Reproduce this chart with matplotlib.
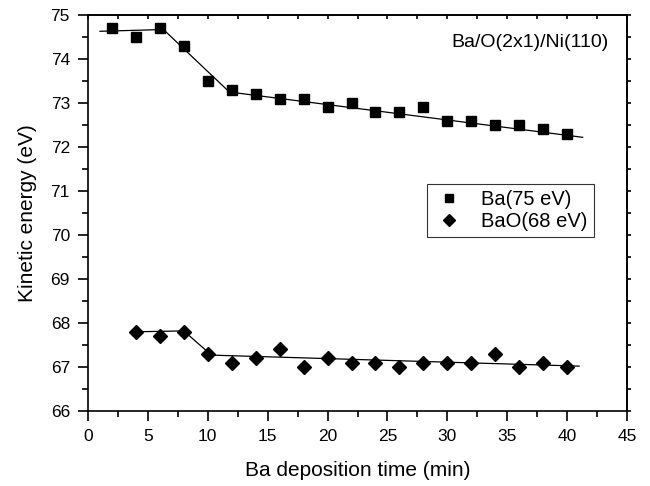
import matplotlib
matplotlib.use("Agg")
import matplotlib.pyplot as plt
from matplotlib.ticker import MultipleLocator

plt.rcParams['font.family'] = ['Liberation Sans', 'DejaVu Sans']

# Data
ba_time = [2, 4, 6, 8, 10, 12, 14, 16, 18, 20, 22, 24, 26, 28, 30, 32, 34, 36, 38, 40]
ba_energy = [74.7, 74.5, 74.7, 74.3, 73.5, 73.3, 73.2, 73.1, 73.1, 72.9,
             73.0, 72.8, 72.8, 72.9, 72.6, 72.6, 72.5, 72.5, 72.4, 72.3]
bao_time = [4, 6, 8, 10, 12, 14, 16, 18, 20, 22, 24, 26, 28, 30, 32, 34, 36, 38, 40]
bao_energy = [67.8, 67.7, 67.8, 67.3, 67.1, 67.2, 67.4, 67.0, 67.2, 67.1,
              67.1, 67.0, 67.1, 67.1, 67.1, 67.3, 67.0, 67.1, 67.0]

# Fitted line segments (breakpoints)
ba_fit_x = [1.0, 6.3, 11.8, 41.3]
ba_fit_y = [74.63, 74.67, 73.25, 72.22]
bao_fit_x = [3.9, 8.0, 10.3, 41.0]
bao_fit_y = [67.80, 67.82, 67.27, 67.02]

fig = plt.figure(figsize=(6.5, 4.86), dpi=100)
ax = fig.add_axes([88/650, 1 - 411/486, (627-88)/650, (411-15)/486])

ax.plot(ba_fit_x, ba_fit_y, color='black', lw=0.9)
ax.plot(bao_fit_x, bao_fit_y, color='black', lw=0.9)
ax.plot(ba_time, ba_energy, ls='none', marker='s', ms=7, color='black',
        label='Ba(75 eV)')
ax.plot(bao_time, bao_energy, ls='none', marker='D', ms=7, color='black',
        label='BaO(68 eV)')

ax.set_xlim(0, 45)
ax.set_ylim(66, 75)
ax.xaxis.set_major_locator(MultipleLocator(5))
ax.xaxis.set_minor_locator(MultipleLocator(2.5))
ax.yaxis.set_major_locator(MultipleLocator(1))
ax.yaxis.set_minor_locator(MultipleLocator(0.5))

ax.tick_params(axis='both', which='major', direction='out', length=7, width=1.2,
               labelsize=12.5, pad=6)
ax.tick_params(axis='both', which='minor', direction='out', length=4, width=1.2)
# secondary ticks on top and right (short, no labels)
secx = ax.secondary_xaxis('top')
secx.xaxis.set_major_locator(MultipleLocator(5))
secx.xaxis.set_minor_locator(MultipleLocator(2.5))
secx.tick_params(which='both', direction='in', length=3, width=1.2, labeltop=False)
secy = ax.secondary_yaxis('right')
secy.yaxis.set_major_locator(MultipleLocator(1))
secy.yaxis.set_minor_locator(MultipleLocator(0.5))
secy.tick_params(which='both', direction='out', length=3, width=1.2, labelright=False)
for sp in list(ax.spines.values()) + list(secx.spines.values()) + list(secy.spines.values()):
    sp.set_linewidth(1.2)

ax.set_xlabel('Ba deposition time (min)', fontsize=15, labelpad=12)
ax.set_ylabel('Kinetic energy (eV)', fontsize=15, labelpad=10)

ax.text(0.965, 0.93, 'Ba/O(2x1)/Ni(110)', transform=ax.transAxes,
        ha='right', va='center', fontsize=14)

leg = ax.legend(loc='upper left', bbox_to_anchor=((427-88)/539, 1 - (184-15)/396),
                fontsize=14.5, frameon=True, fancybox=False, edgecolor='black',
                handlelength=1.6, handletextpad=0.8, borderpad=0.3,
                labelspacing=0.15, markerscale=0.85, borderaxespad=0)
leg.get_frame().set_linewidth(0.8)

fig.savefig('out.png', dpi=100)
